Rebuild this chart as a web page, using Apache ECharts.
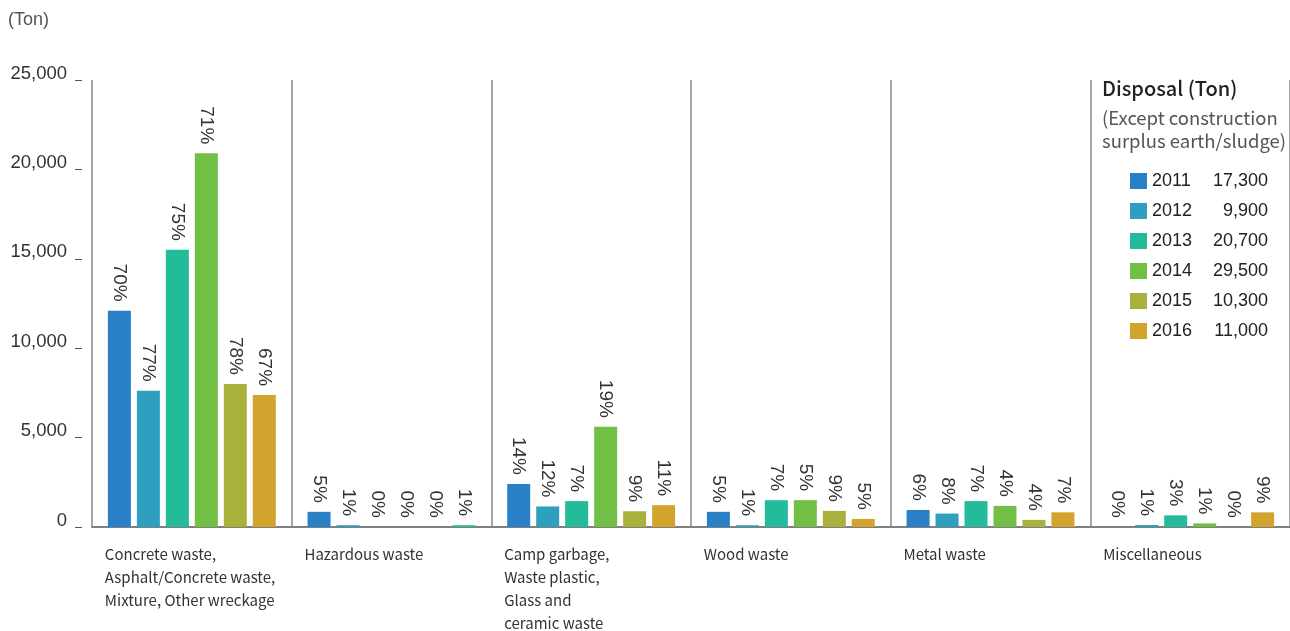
<!DOCTYPE html>
<html><head><meta charset="utf-8">
<script src="https://cdn.jsdelivr.net/npm/echarts@6/dist/echarts.min.js"></script>
<style>html,body{margin:0;padding:0;background:#fff}#c{width:1290px;height:631px}</style>
</head><body><div id="c"></div>
<script>
const years = ['2011', '2012', '2013', '2014', '2015', '2016'];
const totals = ['17,300', '9,900', '20,700', '29,500', '10,300', '11,000'];
const categories = [
  'Concrete waste,\nAsphalt/Concrete waste,\nMixture, Other wreckage',
  'Hazardous waste',
  'Camp garbage,\nWaste plastic,\nGlass and\nceramic waste',
  'Wood waste',
  'Metal waste',
  'Miscellaneous'
];
const v2011 = [12100, 850, 2410, 850, 950, 0];
const v2012 = [7620, 100, 1150, 100, 750, 110];
const v2013 = [15500, 0, 1450, 1500, 1450, 650];
const v2014 = [20900, 0, 5600, 1500, 1180, 200];
const v2015 = [8000, 0, 880, 900, 400, 0];
const v2016 = [7380, 100, 1220, 450, 820, 820];
const p2011 = ['70%', '5%', '14%', '5%', '6%', '0%'];
const p2012 = ['77%', '1%', '12%', '1%', '8%', '1%'];
const p2013 = ['75%', '0%', '7%', '7%', '7%', '3%'];
const p2014 = ['71%', '0%', '19%', '5%', '4%', '1%'];
const p2015 = ['78%', '0%', '9%', '9%', '4%', '0%'];
const p2016 = ['67%', '1%', '11%', '5%', '7%', '9%'];
const yTicks = [0, 5000, 10000, 15000, 20000, 25000];

const values = [v2011, v2012, v2013, v2014, v2015, v2016];
const pcts = [p2011, p2012, p2013, p2014, p2015, p2016];
const colors = ['#2980c6', '#2e9fbf', '#24bb9b', '#71bf45', '#a8b13b', '#d2a42d'];

const series = years.map((y, i) => ({
  name: y,
  type: 'bar',
  barWidth: 23,
  barGap: '26%',
  itemStyle: { color: colors[i] },
  data: values[i].map((v, j) => {
    const d = { value: v };
    // in the reference, the 2016 hazardous-waste sliver is drawn in the 2013 colour
    if (i === 5 && j === 1) d.itemStyle = { color: colors[2] };
    return d;
  }),
  label: {
    show: true,
    position: 'top',
    rotate: -90,
    align: 'right',
    verticalAlign: 'middle',
    distance: 9,
    fontFamily: 'Liberation Sans',
    fontSize: 19,
    color: '#333',
    formatter: p => pcts[i][p.dataIndex]
  }
}));

const chart = echarts.init(document.getElementById('c'), null, { renderer: 'canvas' });
chart.setOption({
  animation: false,
  color: colors,
  title: [
    { text: '(Ton)', left: 3, top: 6,
      textStyle: { fontFamily: 'Liberation Sans', fontSize: 18, fontWeight: 'normal', color: '#555' } },
    { text: 'Disposal (Ton)', subtext: '(Except construction\nsurplus earth/sludge)',
      left: 1097, top: 73, itemGap: 8,
      textStyle: { fontFamily: 'Noto Sans CJK JP', fontSize: 20, fontWeight: 500, color: '#222' },
      subtextStyle: { fontFamily: 'Noto Sans CJK JP', fontSize: 18.5, lineHeight: 23, color: '#555' } }
  ],
  legend: {
    orient: 'vertical',
    left: 1130, top: 172,
    padding: 0,
    itemWidth: 17, itemHeight: 16, itemGap: 12,
    icon: 'rect',
    selectedMode: false,
    data: years,
    formatter: name => '{y|' + name + '}{v|' + totals[years.indexOf(name)] + '}',
    textStyle: {
      fontFamily: 'Liberation Sans', fontSize: 18, lineHeight: 16, color: '#222',
      rich: {
        y: { fontFamily: 'Liberation Sans', fontSize: 18, lineHeight: 16, color: '#222', width: 58, align: 'left' },
        v: { fontFamily: 'Liberation Sans', fontSize: 18, lineHeight: 16, color: '#222', width: 58, align: 'right' }
      }
    }
  },
  grid: { left: 92, right: -2, top: 80, bottom: 104, containLabel: false },
  xAxis: {
    type: 'category',
    data: categories,
    axisLine: { show: true, lineStyle: { color: '#808080', width: 2 } },
    axisTick: { show: false },
    splitLine: { show: true, lineStyle: { color: '#8a8a8a', width: 1.5 } },
    axisLabel: {
      interval: 0,
      margin: 16,
      align: 'center',
      width: 174,
      overflow: 'none',
      formatter: v => v.split('\n').map(s => '{t|' + s + '}').join('\n'),
      rich: {
        t: { align: 'left', fontFamily: 'Noto Sans CJK JP', fontSize: 15, lineHeight: 23, color: '#333' }
      }
    }
  },
  yAxis: {
    type: 'value',
    min: yTicks[0], max: yTicks[yTicks.length - 1], interval: yTicks[1] - yTicks[0],
    offset: 10,
    axisLine: { show: false },
    axisTick: { show: true, length: 7, lineStyle: { color: '#555', width: 1 } },
    splitLine: { show: false },
    axisLabel: {
      margin: 15,
      verticalAlign: 'bottom',
      lineHeight: 13,
      fontFamily: 'Liberation Sans',
      fontSize: 18.5,
      color: '#333',
      formatter: v => v.toLocaleString('en-US')
    }
  },
  series: series
});
</script>
</body></html>
